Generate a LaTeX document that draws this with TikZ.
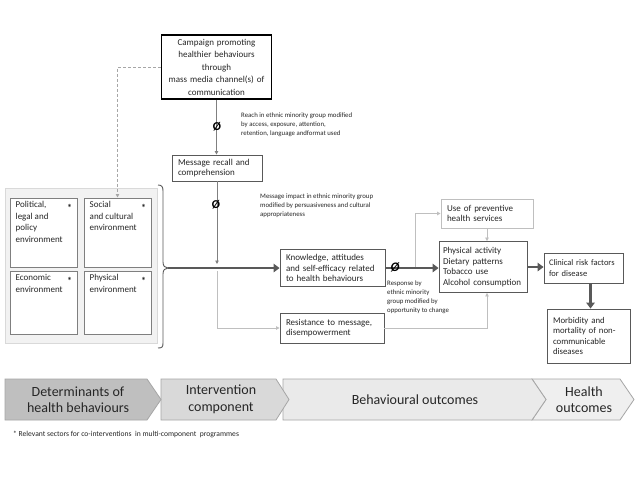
\documentclass[tikz,border=0pt]{standalone}
\usepackage{fontspec}
\setmainfont{Carlito}
\usetikzlibrary{arrows.meta}
\hyphenpenalty=10000
\exhyphenpenalty=10000
\definecolor{txt}{HTML}{262626}
\definecolor{bord}{HTML}{595959}
\definecolor{lightln}{HTML}{BFBFBF}
\definecolor{midln}{HTML}{808080}
\definecolor{darkln}{HTML}{595959}
\definecolor{detb}{HTML}{7F7F7F}
\definecolor{outerfill}{HTML}{F2F2F2}
\definecolor{outerb}{HTML}{D9D9D9}
\definecolor{chevb}{HTML}{A6A6A6}
\definecolor{cA}{HTML}{BFBFBF}
\definecolor{cB}{HTML}{D9D9D9}
\definecolor{cC}{HTML}{EAEAEA}
\definecolor{cD}{HTML}{EFEFEF}
\begin{document}
\begin{tikzpicture}[x=1pt,y=-1pt,
  every node/.append style={execute at begin node={\hyphenpenalty=10000\exhyphenpenalty=10000}},
  box/.style={draw=bord, line width=0.9pt, fill=white, inner xsep=6pt, inner ysep=2pt,
    align=left, font=\fontsize{9}{10.6}\selectfont, text=txt},
  lbox/.style={box, draw=lightln},
  dbox/.style={draw=detb, line width=1pt, fill=white, minimum width=67pt, inner sep=0pt},
  dtext/.style={align=left, font=\fontsize{9}{11.5}\selectfont, text=txt, inner sep=0pt, anchor=north west},
  star/.style={font=\fontsize{10}{10}\selectfont\bfseries, text=txt, inner sep=0pt},
  note/.style={align=left, font=\fontsize{6.8}{9}\selectfont, text=txt, inner sep=0pt, anchor=north west},
  thinar/.style={draw=midln, line width=0.8pt, -{Triangle[length=3.5pt,width=3.5pt]}},
  lightar/.style={draw=lightln, line width=0.9pt, -{Triangle[length=3.5pt,width=3.5pt]}},
  thickar/.style={draw=darkln, line width=2.8pt, -{Triangle[length=6pt,width=8.5pt]}},
  nul/.style={font=\fontsize{12}{12}\selectfont\bfseries, text=black, inner sep=0pt},
  chev/.style={draw=chevb, line width=0.8pt},
  ctext/.style={align=center, font=\fontsize{14}{16.5}\selectfont, text=txt, inner sep=0pt}
]
\useasboundingbox (0,0) rectangle (640,480);
\fill[white] (0,0) rectangle (640,480);

% determinants group
\draw[fill=outerfill, draw=outerb, line width=0.8pt] (5,188) rectangle (157,343);
\node[dbox, minimum height=69pt] (pol) at (43.5,232.5) {};
\node[dbox, minimum height=69pt] (soc) at (117.5,232.5) {};
\node[dbox, minimum height=63pt] (eco) at (43.5,302.5) {};
\node[dbox, minimum height=63pt] (phy) at (117.5,302.5) {};
\node[dtext] (polt) at ([xshift=6pt,yshift=-4pt]pol.north west) {Political,\\legal and\\policy\\environment};
\node[dtext] (soct) at ([xshift=6pt,yshift=-4pt]soc.north west) {Social\\and cultural\\environment};
\node[dtext] (ecot) at ([xshift=6pt,yshift=-4pt]eco.north west) {Economic\\environment};
\node[dtext] (phyt) at ([xshift=6pt,yshift=-4pt]phy.north west) {Physical\\environment};
\node[star] (pols) at ([xshift=-8pt,yshift=-10pt]pol.north east) {*};
\node[star] (socs) at ([xshift=-8pt,yshift=-10pt]soc.north east) {*};
\node[star] (ecos) at ([xshift=-8pt,yshift=-10pt]eco.north east) {*};
\node[star] (phys) at ([xshift=-8pt,yshift=-10pt]phy.north east) {*};

% brace
\coordinate (btip) at (168,268);
\draw[draw=darkln, line width=0.9pt] (158,185) .. controls (162,185) and (163,187) .. (163,191)
  -- (163,262) .. controls (163,266) and (165,268) .. (btip)
  .. controls (165,268) and (163,270) .. (163,274) -- (163,343)
  .. controls (163,347) and (162,348) .. (158,348);

% boxes
\node[draw=black, line width=1.5pt, fill=white, text width=110pt, minimum height=64pt,
  align=center, inner sep=0pt, font=\fontsize{9}{12.5}\selectfont, text=txt]
  (camp) at (216.5,67) {Campaign promoting\\healthier behaviours\\through\\mass media channel(s) of\\communication};
\node[box, text width=78pt, minimum height=26pt] (recall) at (217,168) {Message recall and\\comprehension};
\node[box, text width=93pt, minimum height=37pt] (know) at (332.5,268) {Knowledge, attitudes\\and self-efficacy related\\to health behaviours};
\node[box, text width=92pt, minimum height=30pt] (resist) at (332,328) {Resistance to message,\\disempowerment};
\node[lbox, text width=80pt, minimum height=29pt] (use) at (487,213.5) {Use of preventive\\health services};
\node[box, inner xsep=4pt, text width=80pt, minimum height=51pt] (phact) at (483,267) {Physical activity\\Dietary patterns\\Tobacco use\\Alcohol consumption};
\node[box, inner xsep=5pt, text width=69pt, minimum height=30pt, font=\fontsize{8.5}{10.4}\selectfont] (clin) at (583.5,268) {Clinical risk factors\\for disease};
\node[box, text width=71pt, minimum height=54pt, font=\fontsize{8.8}{10.6}\selectfont] (morb) at (588.5,336) {Morbidity and\\mortality of non-\\communicable\\diseases};

% connectors
\draw[draw=chevb, line width=0.8pt, dash pattern=on 3pt off 2pt, -{Triangle[length=3.5pt,width=3.5pt]}]
  (camp.west) -| (soc.north);
\draw[thinar] (camp.south) -- (camp.south |- recall.north);
\node[nul] (n1) at (217,127) {Ø};
\node[note] (t1) at (241,113) {Reach in ethnic minority group modified\\by access, exposure, attention,\\retention, language andformat used};

\coordinate (j1) at (217,264);
\coordinate (j2) at (217,271);
\draw[thinar] (recall.south) -- (j1);
\node[nul] (n2) at (216,205) {Ø};
\node[note] (t2) at (260,194) {Message impact in ethnic minority group\\modified by persuasiveness and cultural\\appropriateness};
\draw[lightar] (j2) |- (resist.west);

\draw[thickar] (btip) -- (know.west);
\draw[thickar] (know.east) -- (know.east -| phact.west);
\node[font=\fontsize{13}{13}\selectfont\bfseries\itshape, text=black, inner sep=0pt] (n3) at (395,267) {Ø};
\node[note] (t3) at (387,281) {Response by\\ethnic minority\\group modified by\\opportunity to change};

\coordinate (br) at (415,267);
\draw[lightar] (br) |- (use.west);
\draw[lightar] (use.south) -- (use.south |- phact.north);
\draw[lightar] (resist.east) -| (use.south |- phact.south);
\draw[thickar] (phact.east) -- (phact.east -| clin.west);
\draw[thickar] ([xshift=7pt]clin.south) -- ([xshift=7pt]clin.south |- morb.north);

% banner
\draw[chev, fill=cD] (532,379) -- (620,379) -- (634,399.5) -- (620,420) -- (532,420) -- (546,399.5) -- cycle;
\draw[chev, fill=cC] (283,379) -- (532,379) -- (546,399.5) -- (532,420) -- (283,420) -- cycle;
\draw[chev, fill=cB] (161,379) -- (276,379) -- (289,399.5) -- (276,420) -- (161,420) -- cycle;
\draw[chev, fill=cA] (5,379) -- (147,379) -- (161,399.5) -- (147,420) -- (5,420) -- cycle;
\node[ctext] (bA) at (78,399.5) {Determinants of\\health behaviours};
\node[ctext] (bB) at (221,399.5) {Intervention\\component};
\node[ctext] (bC) at (415,399.5) {Behavioural outcomes};
\node[ctext] (bD) at (584,399.5) {Health\\outcomes};

\node[anchor=west, inner sep=0pt, font=\fontsize{7.6}{9}\selectfont, text=txt] (foot) at (13,434)
  {* Relevant sectors for co-interventions\ \ in multi-component\ \ programmes};
\end{tikzpicture}
\end{document}
